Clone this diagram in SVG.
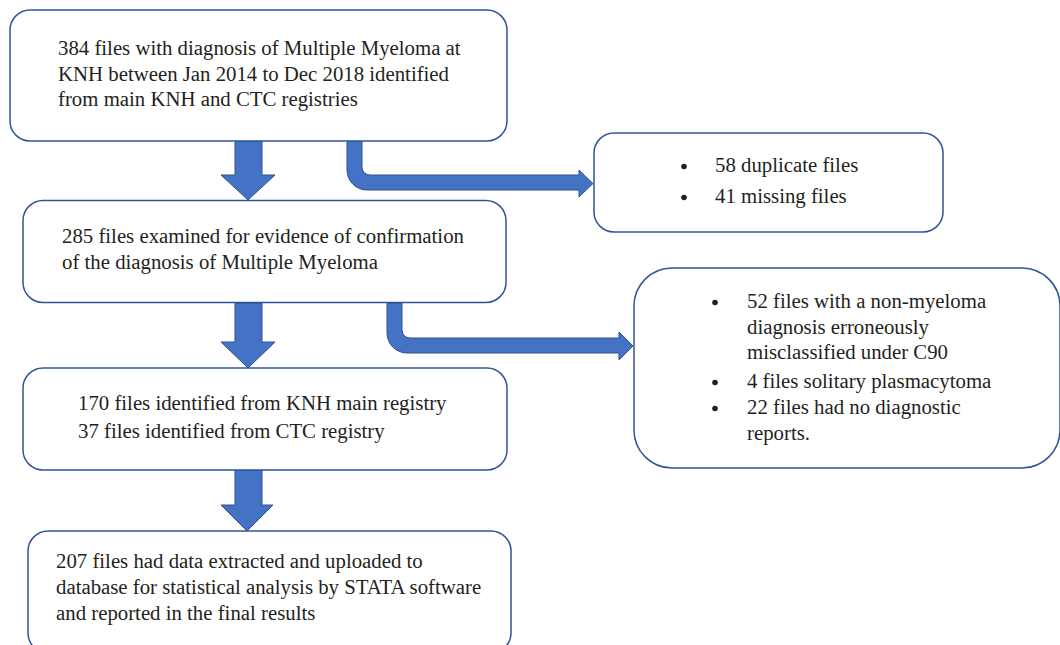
<svg xmlns="http://www.w3.org/2000/svg" width="1060" height="645" viewBox="0 0 1060 645">
  <style>
    .box { fill: #ffffff; stroke: #2F5597; stroke-width: 1.5; }
    .arrow { fill: #4472C4; stroke: #2F528F; stroke-width: 1; }
    .t { font-family: "Liberation Serif", "Times New Roman", serif; font-size: 20.8px; fill: #231F20; }
    .dot { fill: #231F20; }
  </style>
  <rect width="1060" height="645" fill="#ffffff"/>

  <g id="connectors">
    <path class="arrow" d="M235,141 L262,141 L262,175 L275,175 L248,200 L221,175 L235,175 Z"/>
    <path class="arrow" d="M235,303 L262,303 L262,342 L275,342 L248,368 L221,342 L235,342 Z"/>
    <path class="arrow" d="M235,470 L262,470 L262,505 L273,505 L247,531 L221,505 L235,505 Z"/>
    <path class="arrow" d="M347,141 L362,141 L362,167 A8,8 0 0 0 370,175 L579,175 L579,170 L593,183.5 L579,197 L579,190 L367,190 A20,20 0 0 1 347,170 Z"/>
    <path class="arrow" d="M387,303 L402,303 L402,330 A8,8 0 0 0 410,338 L619,338 L619,332 L633,346 L619,360 L619,353 L407,353 A20,20 0 0 1 387,333 Z"/>
  </g>

  <g id="node-identified">
    <rect class="box" x="10" y="10" width="497" height="131" rx="20" ry="20"/>
    <text class="t" x="58" y="55">384 files with diagnosis of Multiple Myeloma at</text>
    <text class="t" x="58" y="81">KNH between Jan 2014 to Dec 2018 identified</text>
    <text class="t" x="58" y="106">from main KNH and CTC registries</text>
  </g>

  <g id="node-excluded-1">
    <rect class="box" x="594" y="133" width="349" height="99" rx="20" ry="20"/>
    <circle class="dot" cx="684" cy="166.5" r="2.8"/>
    <text class="t" x="715" y="172">58 duplicate files</text>
    <circle class="dot" cx="684" cy="197.5" r="2.8"/>
    <text class="t" x="715" y="203">41 missing files</text>
  </g>

  <g id="node-examined">
    <rect class="box" x="23" y="200.5" width="483" height="102" rx="20" ry="20"/>
    <text class="t" x="62" y="243">285 files examined for evidence of confirmation</text>
    <text class="t" x="62" y="269">of the diagnosis of Multiple Myeloma</text>
  </g>

  <g id="node-excluded-2">
    <rect class="box" x="634" y="268" width="426" height="200" rx="38" ry="38"/>
    <circle class="dot" cx="715" cy="302.5" r="2.8"/>
    <text class="t" x="747" y="308">52 files with a non-myeloma</text>
    <text class="t" x="747" y="334">diagnosis erroneously</text>
    <text class="t" x="747" y="359">misclassified under C90</text>
    <circle class="dot" cx="715" cy="382.5" r="2.8"/>
    <text class="t" x="747" y="388">4 files solitary plasmacytoma</text>
    <circle class="dot" cx="715" cy="408.5" r="2.8"/>
    <text class="t" x="747" y="414">22 files had no diagnostic</text>
    <text class="t" x="747" y="440">reports.</text>
  </g>

  <g id="node-registries">
    <rect class="box" x="23" y="368" width="484" height="102" rx="20" ry="20"/>
    <text class="t" x="78" y="410">170 files identified from KNH main registry</text>
    <text class="t" x="78" y="438">37 files identified from CTC registry</text>
  </g>

  <g id="node-extracted">
    <rect class="box" x="28" y="531" width="483" height="122" rx="20" ry="20"/>
    <text class="t" x="56" y="568">207 files had data extracted and uploaded to</text>
    <text class="t" x="56" y="594">database for statistical analysis by STATA software</text>
    <text class="t" x="56" y="620">and reported in the final results</text>
  </g>
</svg>
